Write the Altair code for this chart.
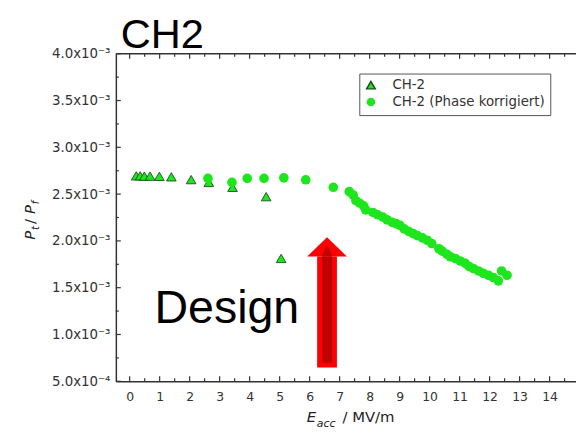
import altair as alt
import pandas as pd

# ---- data ----
ch2_x = [0.22, 0.35, 0.49, 0.68, 0.99, 1.39, 2.05, 2.64, 3.43, 4.55, 5.05]
ch2_y = [2.695e-3, 2.695e-3, 2.692e-3, 2.692e-3, 2.69e-3, 2.685e-3, 2.655e-3,
         2.625e-3, 2.573e-3, 2.473e-3, 1.813e-3]

phase_x = [2.61, 3.41, 3.92, 4.48, 5.14, 5.87, 6.79,
           7.32, 7.45, 7.54, 7.67, 7.80, 7.87, 8.11, 8.27, 8.44, 8.58, 8.75,
           8.88, 9.01, 9.15, 9.30, 9.45, 9.59, 9.76, 9.92, 10.07, 10.31, 10.42,
           10.58, 10.69, 10.86, 11.02, 11.19, 11.32, 11.46, 11.63, 11.79, 11.96,
           12.12, 12.29, 12.40, 12.58]
phase_y = [2.668e-3, 2.625e-3, 2.668e-3, 2.668e-3, 2.674e-3, 2.653e-3, 2.573e-3,
           2.526e-3, 2.491e-3, 2.431e-3, 2.403e-3, 2.374e-3, 2.332e-3, 2.304e-3,
           2.279e-3, 2.255e-3, 2.226e-3, 2.198e-3, 2.184e-3, 2.166e-3, 2.128e-3,
           2.102e-3, 2.078e-3, 2.057e-3, 2.032e-3, 2.007e-3, 1.972e-3, 1.916e-3,
           1.891e-3, 1.856e-3, 1.831e-3, 1.810e-3, 1.785e-3, 1.760e-3, 1.725e-3,
           1.704e-3, 1.679e-3, 1.654e-3, 1.633e-3, 1.609e-3, 1.573e-3, 1.679e-3,
           1.633e-3]

series_names = ["CH-2", "CH-2 (Phase korrigiert)"]

x_major = list(range(0, 15))
x_minor = [i + 0.5 for i in range(0, 15)]
y_major = [0.5e-3, 1.0e-3, 1.5e-3, 2.0e-3, 2.5e-3, 3.0e-3, 3.5e-3, 4.0e-3]
y_minor = [0.75e-3, 1.25e-3, 1.75e-3, 2.25e-3, 2.75e-3, 3.25e-3, 3.75e-3]

# design arrow (data coordinates)
arrow_shaft_x = [6.25, 6.91]
arrow_shaft_y = [0.648e-3, 1.834e-3]
arrow_inner_x = [6.42, 6.75]
arrow_inner_y = [0.70e-3, 1.834e-3]
head_x = [5.92, 6.58, 7.24]
head_top = [1.834e-3, 2.04e-3, 1.834e-3]
head_base = 1.834e-3
inner_head_x = [6.40, 6.58, 6.76]
inner_head_top = [1.834e-3, 1.96e-3, 1.834e-3]

title_text = "CH2"
design_text = "Design"

# ---- layout ----
W, H = 465, 331
GREEN = "#1de61d"
AX = "#333333"
FONT = "DejaVu Sans"

xs = alt.Scale(domain=[-0.46, 14.88], nice=False, zero=False)
ys = alt.Scale(domain=[5e-4, 4e-3], nice=False, zero=False)

label_expr = ("datum.value < 0.00099 ? format(datum.value*10000,'.1f') + 'x10\u207b\u2074' "
              ": format(datum.value*1000,'.1f') + 'x10\u207b\u00b3'")

x_axis = alt.Axis(values=x_major, tickSize=0, labelPadding=9, grid=False, title=None,
                  domainColor=AX, domainWidth=1.5, labelColor=AX,
                  labelFont=FONT, labelFontSize=12.5)
y_axis = alt.Axis(values=y_major, labelExpr=label_expr, tickSize=0, labelPadding=6,
                  grid=False, title=None, domainColor=AX, domainWidth=1.5,
                  labelColor=AX, labelFont=FONT, labelFontSize=13.5)


def X(field):
    return alt.X(field, scale=xs, axis=x_axis)


def Y(field):
    return alt.Y(field, scale=ys, axis=y_axis)


pts = pd.DataFrame({
    "E": ch2_x + phase_x,
    "P": ch2_y + phase_y,
    "series": [series_names[0]] * len(ch2_x) + [series_names[1]] * len(phase_x),
})

leg = dict(orient="none", legendX=246, legendY=20, title=None)

points = alt.Chart(pts).mark_point(filled=True, size=95, strokeWidth=0.9, opacity=1).encode(
    x=X("E:Q"),
    y=Y("P:Q"),
    shape=alt.Shape("series:N", scale=alt.Scale(domain=series_names, range=["triangle-up", "circle"]),
                    legend=alt.Legend(strokeColor="#555555", fillColor="white", padding=5,
                                      labelFont=FONT, labelFontSize=13.5, labelColor=AX,
                                      symbolSize=75, rowPadding=2, labelOffset=15, **leg)),
    fill=alt.Fill("series:N", scale=alt.Scale(domain=series_names, range=[GREEN, GREEN]),
                  legend=alt.Legend(**leg)),
    stroke=alt.Stroke("series:N", scale=alt.Scale(domain=series_names, range=["#1b4d1b", "rgba(0,0,0,0)"]),
                      legend=alt.Legend(**leg)),
)


# custom inward ticks
def tick_layer(vals, axis, length, top=False):
    df = pd.DataFrame({"v": vals})
    base = alt.Chart(df).mark_rule(color=AX, strokeWidth=1.2)
    if axis == "x":
        if top:
            return base.encode(x=X("v:Q"), y=alt.value(0), y2=alt.value(length))
        return base.encode(x=X("v:Q"), y=alt.value(H), y2=alt.value(H - length))
    return base.encode(y=Y("v:Q"), x=alt.value(0), x2=alt.value(length))


ticks = [
    tick_layer(x_major, "x", 5), tick_layer(x_minor, "x", 3),
    tick_layer(x_major, "x", 5, top=True), tick_layer(x_minor, "x", 3, top=True),
    tick_layer(y_major, "y", 5), tick_layer(y_minor, "y", 3),
]

top_line = alt.Chart(pd.DataFrame({"a": [0]})).mark_rule(color=AX, strokeWidth=1.5).encode(
    x=alt.value(0), x2=alt.value(W), y=alt.value(0))

# arrow
shaft = alt.Chart(pd.DataFrame({"x1": [arrow_shaft_x[0]], "x2": [arrow_shaft_x[1]],
                                "y1": [arrow_shaft_y[0]], "y2": [arrow_shaft_y[1]]})).mark_rect(color="#ff0000").encode(
    x=X("x1:Q"), x2="x2:Q", y=Y("y1:Q"), y2="y2:Q")
inner = alt.Chart(pd.DataFrame({"x1": [arrow_inner_x[0]], "x2": [arrow_inner_x[1]],
                                "y1": [arrow_inner_y[0]], "y2": [arrow_inner_y[1]]})).mark_rect(color="#c00000").encode(
    x=X("x1:Q"), x2="x2:Q", y=Y("y1:Q"), y2="y2:Q")
head = alt.Chart(pd.DataFrame({"x": head_x, "t": head_top, "b": [head_base] * 3})).mark_area(
    color="#ff0000", opacity=1).encode(x=X("x:Q"), y=Y("t:Q"), y2="b:Q")
inner_head = alt.Chart(pd.DataFrame({"x": inner_head_x, "t": inner_head_top, "b": [head_base] * 3})).mark_area(
    color="#c00000", opacity=1).encode(x=X("x:Q"), y=Y("t:Q"), y2="b:Q")


# texts
def txt(s, x, y, size, font="Liberation Sans", italic=False, angle=0, color="black"):
    kw = dict(align="left", baseline="alphabetic", fontSize=size, font=font, color=color)
    if italic:
        kw["fontStyle"] = "italic"
    if angle:
        kw["angle"] = angle
    return alt.Chart(pd.DataFrame({"t": [s]})).mark_text(**kw).encode(
        text="t:N", x=alt.value(x), y=alt.value(y))


TC = "#222222"
texts = [
    txt(title_text, 5, -6, 42),
    txt(design_text, 39, 272, 47),
    # x title: E_acc / MV/m
    txt("E", 193, 372, 15, FONT, italic=True, color=TC),
    txt("acc", 203, 377, 11, FONT, italic=True, color=TC),
    txt("/ MV/m", 229, 372, 15, FONT, color=TC),
    # y title: P_t / P_f (rotated)
    txt("P", -82, 188, 15, FONT, italic=True, angle=270, color=TC),
    txt("t", -78, 178, 10, FONT, italic=True, angle=270, color=TC),
    txt("/", -82, 172, 15, FONT, angle=270, color=TC),
    txt("P", -82, 162, 15, FONT, italic=True, angle=270, color=TC),
    txt("f", -78, 152, 10, FONT, italic=True, angle=270, color=TC),
]

chart = alt.layer(
    shaft, inner, head, inner_head, *ticks, top_line, points, *texts
).properties(
    width=W, height=H,
    autosize=alt.AutoSizeParams(type="none"),
    padding={"left": 109, "top": 44, "right": 0, "bottom": 47},
).configure_view(strokeWidth=0)

chart.save("out.html", embed_options={"renderer": "svg", "actions": False})
